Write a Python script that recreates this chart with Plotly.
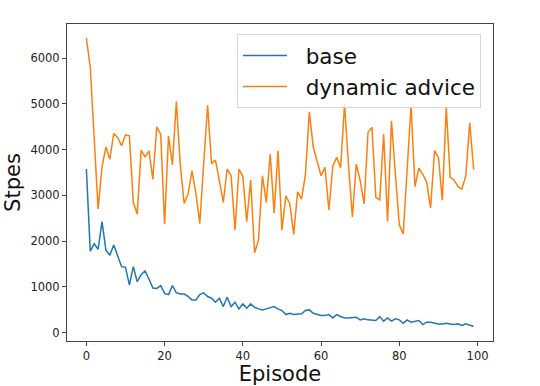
import plotly.graph_objects as go

episodes = list(range(100))

base = [3576, 1777, 1940, 1820, 2425, 1800, 1690, 1915, 1680, 1440,
        1425, 1040, 1440, 1110, 1265, 1345, 1170, 975, 965, 1025,
        855, 828, 1025, 870, 842, 842, 790, 714, 714, 830,
        867, 787, 750, 663, 750, 568, 772, 568, 663, 517,
        626, 532, 626, 553, 517, 495, 517, 539, 568, 517,
        481, 393, 422, 393, 393, 408, 481, 495, 422, 393,
        371, 371, 393, 320, 393, 350, 320, 320, 335, 335,
        277, 299, 277, 277, 262, 350, 248, 320, 248, 299,
        277, 204, 277, 226, 248, 262, 175, 226, 226, 204,
        189, 189, 204, 189, 175, 189, 153, 189, 168, 131]

dynamic_advice = [6440, 5800, 4250, 2700, 3620, 4060, 3790, 4350, 4265, 4083,
                  4323, 4300, 2843, 2589, 3988, 3842, 3973, 3354, 4498, 4338,
                  2370, 4300, 3667, 5051, 3682, 2821, 3026, 3536, 3040, 2383,
                  3700, 4970, 3690, 3770, 3321, 2845, 3575, 3428, 2240, 3575,
                  3410, 2425, 3335, 1745, 2015, 3428, 2845, 3902, 2610, 3975,
                  2240, 2990, 2815, 2146, 3075, 2918, 3450, 4824, 4055, 3765,
                  3428, 3611, 2678, 3640, 3829, 3603, 4995, 3685, 2525, 3683,
                  3321, 2811, 4375, 4485, 2955, 2900, 4340, 2427, 4630, 3467,
                  2354, 2153, 3613, 4970, 3190, 3596, 3457, 3285, 2722, 3975,
                  3829, 2890, 4929, 3392, 3336, 3190, 3137, 3428, 4583, 3563]

series_names = ["base", "dynamic advice"]
x_ticks = [0, 20, 40, 60, 80, 100]
y_ticks = [0, 1000, 2000, 3000, 4000, 5000, 6000]

FONT = "DejaVu Sans"
PAD = "\u00a0\u00a0"

fig = go.Figure()
fig.add_trace(go.Scatter(x=episodes, y=base, mode="lines", name=PAD + series_names[0],
                         line=dict(color="#1f77b4", width=1.5)))
fig.add_trace(go.Scatter(x=episodes, y=dynamic_advice, mode="lines",
                         name=PAD + series_names[1],
                         line=dict(color="#ff7f0e", width=1.5)))

axis_common = dict(showgrid=False, zeroline=False, showline=True,
                   linecolor="#444", linewidth=1, mirror=True,
                   ticks="outside", ticklen=4, tickcolor="#444",
                   automargin=False,
                   tickfont=dict(family=FONT, size=11.5, color="#222"))

fig.update_layout(
    width=540, height=386,
    margin=dict(l=67, r=47, t=24, b=45),
    plot_bgcolor="white", paper_bgcolor="white",
    font=dict(family=FONT, color="#111"),
    xaxis=dict(range=[-4.95, 103.95], tickvals=x_ticks,
               title=dict(text="Episode", font=dict(family=FONT, size=21),
                          standoff=9),
               **axis_common),
    yaxis=dict(range=[-185, 6745], tickvals=y_ticks,
               title=dict(text="Stpes", font=dict(family=FONT, size=21),
                          standoff=4),
               **axis_common),
    legend=dict(x=0.399, y=0.968, xanchor="left", yanchor="top",
                bgcolor="rgba(255,255,255,0.8)", bordercolor="#d6d6d6",
                borderwidth=1, itemwidth=44,
                font=dict(family=FONT, size=21.5, color="#111")),
    showlegend=True,
)

fig.write_html("out.html",
               config={"displayModeBar": False},
               post_script="document.body.style.margin='0';document.body.style.padding='0';")
